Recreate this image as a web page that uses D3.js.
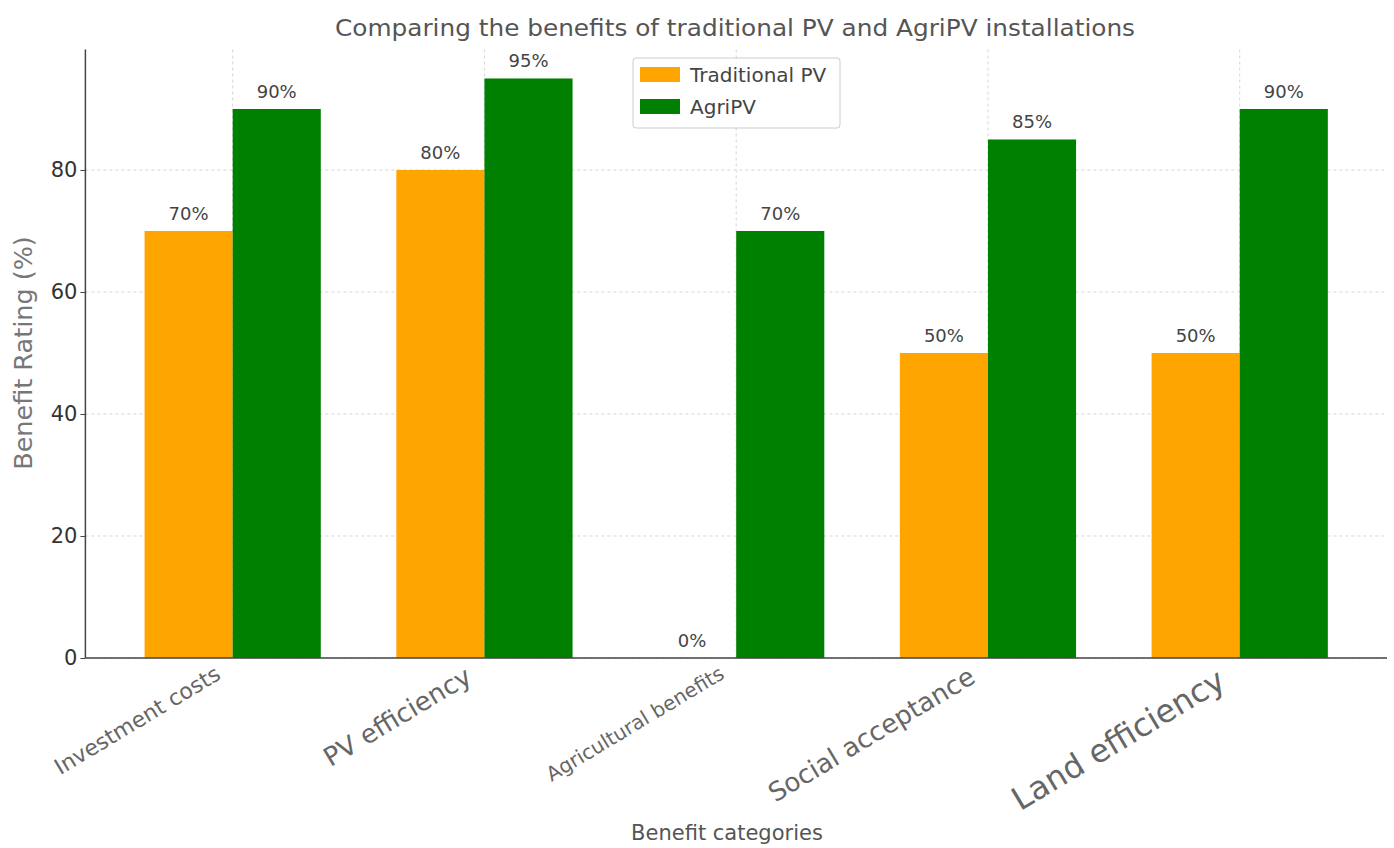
<!DOCTYPE html>
<html>
<head>
<meta charset="utf-8">
<script src="https://cdn.jsdelivr.net/npm/d3@7"></script>
<style>
  html, body { margin: 0; padding: 0; background: #ffffff; }
  svg { display: block; }
  text { font-family: "DejaVu Sans", sans-serif; }
</style>
</head>
<body>
<svg id="chart" width="1394" height="848"></svg>
<script>
// ---------- data ----------
const categories = ["Investment costs", "PV efficiency", "Agricultural benefits", "Social acceptance", "Land efficiency"];
const traditionalPV = [70, 80, 0, 50, 50];
const agriPV = [90, 95, 70, 85, 90];
const seriesNames = ["Traditional PV", "AgriPV"];
const yTickValues = [0, 20, 40, 60, 80];
const titleText = "Comparing the benefits of traditional PV and AgriPV installations";
const xAxisTitle = "Benefit categories";
const yAxisTitle = "Benefit Rating (%)";

// ---------- styles ----------
const colors = ["#FFA500", "#008000"];
const xLabelSizes = [22, 26, 20, 26, 32];

const W = 1394, H = 848;
const mLeft = 85.4, mRight = 1387, mTop = 49.5, mBottom = 658;

const svg = d3.select("#chart");
svg.append("rect").attr("width", W).attr("height", H).attr("fill", "#fff");

const x = d3.scalePoint().domain(categories).range([mLeft, mRight]).padding(0.585);
const y = d3.scaleLinear().domain([0, 99.75]).range([mBottom, mTop]);
const barW = 0.35 * x.step();

// grid
const grid = svg.append("g");
grid.selectAll("line.h").data(yTickValues).join("line")
  .attr("x1", mLeft).attr("x2", mRight)
  .attr("y1", d => y(d)).attr("y2", d => y(d))
  .attr("stroke", "#d6d6d6").attr("stroke-width", 1).attr("stroke-dasharray", "3,3");
grid.selectAll("line.v").data(categories).join("line")
  .attr("x1", d => x(d)).attr("x2", d => x(d))
  .attr("y1", mTop).attr("y2", mBottom)
  .attr("stroke", "#d6d6d6").attr("stroke-width", 1).attr("stroke-dasharray", "3,3");

// bars
const series = [traditionalPV, agriPV];
series.forEach((vals, si) => {
  const g = svg.append("g");
  g.selectAll("rect").data(vals).join("rect")
    .attr("x", (d, i) => x(categories[i]) + (si === 0 ? -barW : 0))
    .attr("y", d => y(d))
    .attr("width", barW)
    .attr("height", d => y(0) - y(d))
    .attr("fill", colors[si]);
  g.selectAll("text").data(vals).join("text")
    .attr("x", (d, i) => x(categories[i]) + (si === 0 ? -barW / 2 : barW / 2))
    .attr("y", d => y(d) - 11)
    .attr("text-anchor", "middle")
    .attr("font-size", 18)
    .attr("fill", "#444")
    .text(d => d + "%");
});

// y axis
const yAxis = svg.append("g").attr("transform", `translate(${mLeft},0)`)
  .call(d3.axisLeft(y).tickValues(yTickValues).tickSize(5).tickPadding(3).tickFormat(d3.format("d")));
yAxis.select(".domain").attr("stroke", "#444").attr("stroke-width", 1.5)
  .attr("d", `M0,${mTop}V${mBottom}`);
yAxis.selectAll(".tick line").attr("stroke", "#444");
yAxis.selectAll(".tick text").attr("font-size", 21).attr("fill", "#333")
  .attr("font-family", "DejaVu Sans");

// x axis (line only, labels placed matplotlib-style)
const xAxis = svg.append("g").attr("transform", `translate(0,${mBottom})`)
  .call(d3.axisBottom(x).tickSize(0).tickFormat(""));
xAxis.select(".domain").attr("stroke", "#444").attr("stroke-width", 1.5)
  .attr("d", `M${mLeft},0H${mRight}`);

const xl = svg.append("g");
const rot = -31;
categories.forEach((c, i) => {
  const t = xl.append("text")
    .attr("font-size", xLabelSizes[i])
    .attr("fill", "#666")
    .attr("text-anchor", "end")
    .attr("transform", `translate(${x(c)},${mBottom}) rotate(${rot})`)
    .text(c);
  const bb = t.node().getBoundingClientRect();
  const dx = (x(c) - 8) - bb.right;
  const dy = (mBottom + 3) - bb.top;
  t.attr("transform", `translate(${x(c) + dx},${mBottom + dy}) rotate(${rot})`);
});

// axis titles
svg.append("text").attr("x", 727).attr("y", 840).attr("text-anchor", "middle")
  .attr("font-size", 21).attr("fill", "#555").text(xAxisTitle);
svg.append("text").attr("transform", "translate(32,353) rotate(-90)")
  .attr("text-anchor", "middle").attr("font-size", 25.5).attr("fill", "#777").text(yAxisTitle);

// title
svg.append("text").attr("x", 735).attr("y", 36).attr("text-anchor", "middle")
  .attr("font-size", 23).attr("fill", "#555")
  .attr("textLength", 800).attr("lengthAdjust", "spacingAndGlyphs")
  .text(titleText);

// legend
const lg = svg.append("g").attr("transform", "translate(633,58)");
lg.append("rect").attr("width", 207).attr("height", 70).attr("rx", 3)
  .attr("fill", "#fff").attr("fill-opacity", 0.85).attr("stroke", "#ccc");
seriesNames.forEach((n, i) => {
  lg.append("rect").attr("x", 7).attr("y", 9 + i * 32).attr("width", 40).attr("height", 15)
    .attr("fill", colors[i]);
  lg.append("text").attr("x", 57).attr("y", 24 + i * 32).attr("font-size", 20)
    .attr("fill", "#444").text(n);
});
</script>
</body>
</html>
